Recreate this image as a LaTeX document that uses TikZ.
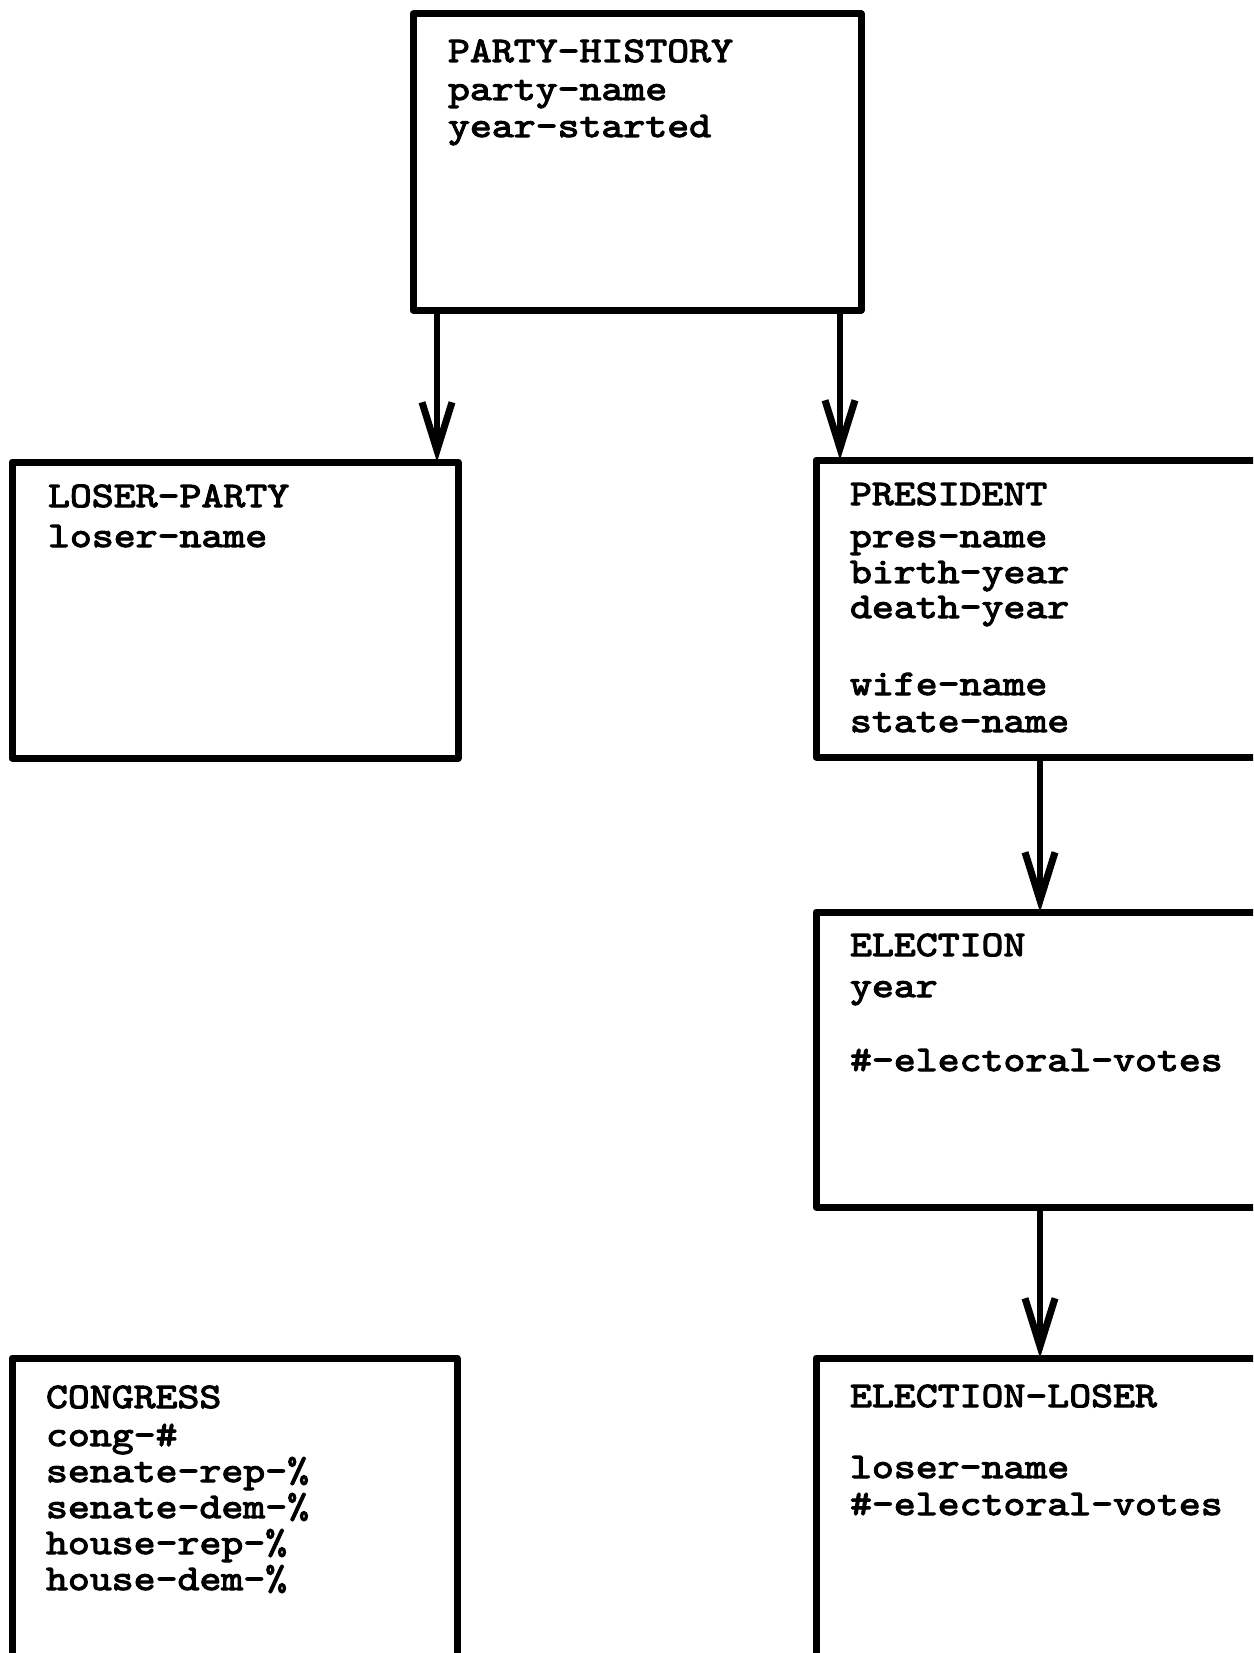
\documentclass[tikz,border=0pt]{standalone}
\usepackage{fontspec}
\newfontfamily\twfont{lmmono10-regular}[Extension=.otf, FakeStretch=1.16, FakeBold=3]
\usetikzlibrary{arrows.meta}
\begin{document}
\begin{tikzpicture}[x=1pt,y=-1pt,
  box/.style={draw=black, line width=7pt, line join=round, rectangle, inner sep=0pt, outer sep=0pt, anchor=north west},
  lbl/.style={anchor=base west, inner sep=0pt, outer sep=0pt, font=\fontsize{36}{36}\selectfont\twfont},
  conn/.style={line width=5.5pt, -{Straight Barb[length=48pt,width=30pt,line width=7pt]}}]
\useasboundingbox (0,0) rectangle (1253,1653);
\clip (0,0) rectangle (1253,1653);
\fill[white] (0,0) rectangle (1253,1653);
% boxes
\node[box, minimum width=448pt, minimum height=296pt] (ph) at (413,14) {};
\node[box, minimum width=446pt, minimum height=296pt] (lp) at (12,462) {};
\node[box, minimum width=500pt, minimum height=297pt] (pres) at (816,460) {};
\node[box, minimum width=500pt, minimum height=295pt] (el) at (816,912) {};
\node[box, minimum width=500pt, minimum height=360pt] (ell) at (816,1358) {};
\node[box, minimum width=445pt, minimum height=360pt] (cong) at (12,1358) {};
% texts
\node[lbl] (ph1) at (448,62) {PARTY-HISTORY};
\node[lbl] (ph2) at (448,100) {party-name};
\node[lbl] (ph3) at (448,137) {year-started};
\node[lbl] (lp1) at (48,507) {LOSER-PARTY};
\node[lbl] (lp2) at (48,547) {loser-name};
\node[lbl] (pr1) at (850,505) {PRESIDENT};
\node[lbl] (pr2) at (850,547) {pres-name};
\node[lbl] (pr3) at (850,583) {birth-year};
\node[lbl] (pr4) at (850,618) {death-year};
\node[lbl] (pr5) at (850,695) {wife-name};
\node[lbl] (pr6) at (850,732) {state-name};
\node[lbl] (el1) at (850,956) {ELECTION};
\node[lbl] (el2) at (850,997) {year};
\node[lbl] (el3) at (850,1071) {\#-electoral-votes};
\node[lbl] (ell1) at (850,1407) {ELECTION-LOSER};
\node[lbl] (ell2) at (850,1478) {loser-name};
\node[lbl] (ell3) at (850,1515) {\#-electoral-votes};
\node[lbl] (cg1) at (46,1408) {CONGRESS};
\node[lbl] (cg2) at (46,1446) {cong-\#};
\node[lbl] (cg3) at (46,1482) {senate-rep-\%};
\node[lbl] (cg4) at (46,1518) {senate-dem-\%};
\node[lbl] (cg5) at (46,1554) {house-rep-\%};
\node[lbl] (cg6) at (46,1590) {house-dem-\%};
% connectors
\coordinate (xa) at (437,0);
\coordinate (xb) at (840,0);
\coordinate (xc) at (1040,0);
\draw[conn] (xa |- ph.south) -- (xa |- lp.north);
\draw[conn] (xb |- ph.south) -- (xb |- pres.north);
\draw[conn] (xc |- pres.south) -- (xc |- el.north);
\draw[conn] (xc |- el.south) -- (xc |- ell.north);
\end{tikzpicture}
\end{document}
